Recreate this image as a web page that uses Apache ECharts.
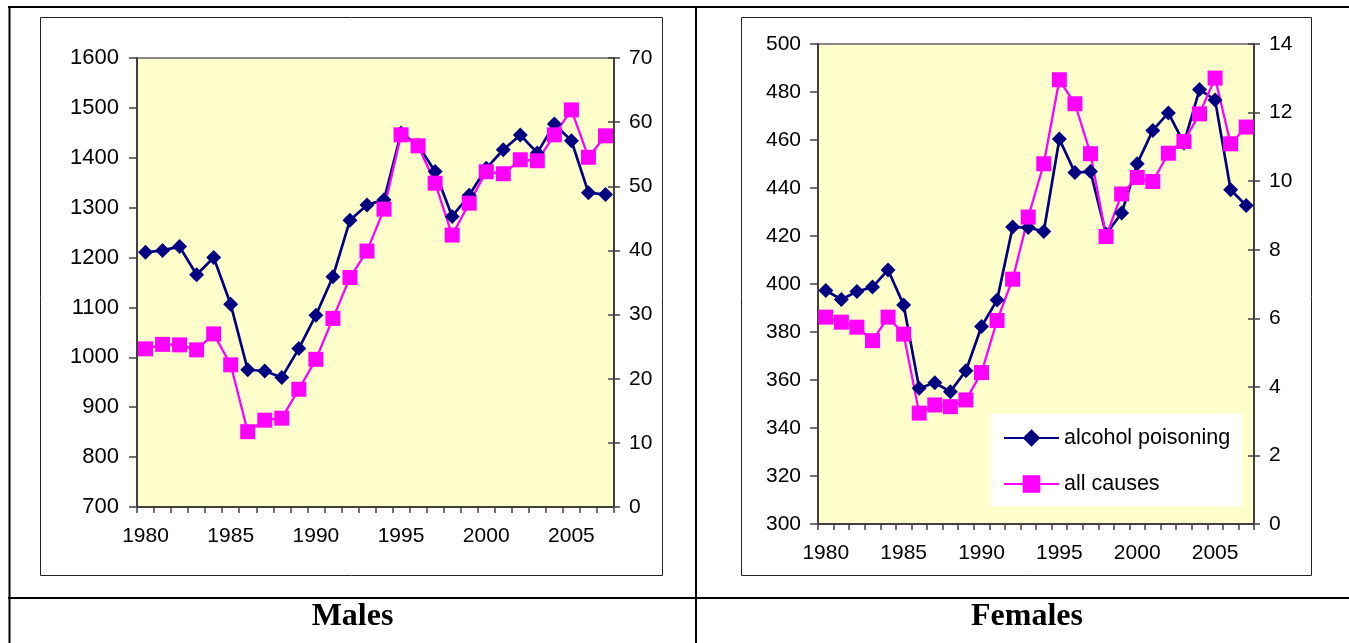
<!DOCTYPE html>
<html>
<head>
<meta charset="utf-8">
<script src="https://cdn.jsdelivr.net/npm/echarts@6/dist/echarts.min.js"></script>
<style>
html,body{margin:0;padding:0;background:#fff;}
#c{width:1349px;height:643px;}
</style>
</head>
<body>
<div id="c"></div>
<script>
// ---- data ----
var years = ['1980','1981','1982','1983','1984','1985','1986','1987','1988','1989',
             '1990','1991','1992','1993','1994','1995','1996','1997','1998','1999',
             '2000','2001','2002','2003','2004','2005','2006','2007'];
var seriesNames = ['alcohol poisoning', 'all causes'];
var panelTitles = ['Males', 'Females'];

// Males
var maleAlcohol = [39.7,40.0,40.6,36.2,38.9,31.6,21.4,21.2,20.2,24.7,
                   29.9,35.9,44.7,47.1,47.9,58.3,56.4,52.3,45.3,48.6,
                   52.8,55.7,58.0,55.2,59.7,57.1,49.0,48.7];
var maleAll = [1017,1026,1025,1015,1047,985,851,874,878,936,
               996,1078,1160,1213,1297,1446,1424,1349,1245,1309,
               1372,1368,1396,1394,1446,1496,1401,1444];
// Females
var femaleAlcohol = [6.81,6.55,6.78,6.91,7.41,6.39,3.96,4.12,3.86,4.47,
                     5.76,6.53,8.66,8.65,8.53,11.23,10.25,10.28,8.45,9.07,
                     10.51,11.48,11.99,11.11,12.67,12.37,9.75,9.29];
var femaleAll = [386.2,384.1,382.0,376.4,386.2,379.1,346.2,349.6,348.9,351.7,
                 363.1,384.8,402.0,427.9,450.1,485.1,475.1,454.3,419.8,437.5,
                 444.4,442.7,454.5,459.4,470.9,485.8,458.4,465.4];

// axis ranges
var maleLeft = {min:700, max:1600, interval:100};
var maleRight = {min:0, max:70, interval:10};
var femaleLeft = {min:300, max:500, interval:20};
var femaleRight = {min:0, max:14, interval:2};

// ---- chart ----
var FONT = '"Liberation Sans", Arial, sans-serif';
var AX = '#404040';
var chart = echarts.init(document.getElementById('c'), null, {renderer:'canvas'});

function xAx(g){
  return {
    type:'category', gridIndex:g, data:years, boundaryGap:true,
    axisLine:{show:true, lineStyle:{color:AX, width:2}},
    axisTick:{show:true, interval:0, length:6, lineStyle:{color:AX, width:1.5}},
    axisLabel:{interval:4, fontSize:21, color:'#000', fontFamily:FONT, margin:19},
    splitLine:{show:false}
  };
}
function yAx(g, pos, r, opts){
  return {
    type:'value', gridIndex:g, position:pos, min:r.min, max:r.max, interval:r.interval,
    axisLine:{show:true, onZero:false, lineStyle:{color:AX, width:2}},
    axisTick:{show:true, inside:!!opts.inside, length:opts.tick, lineStyle:{color:AX, width:1.5}},
    axisLabel:{show:opts.label!==false, fontSize:opts.fs||21, color:'#000', fontFamily:FONT,
               margin:opts.margin||16, formatter:function(v){return String(v);}},
    splitLine:{show:false}
  };
}
function lineS(name, xi, yi, data, color, sym, size, width){
  return {
    name:name, type:'line', xAxisIndex:xi, yAxisIndex:yi, data:data,
    symbol:sym, symbolSize:size, showSymbol:true, showAllSymbol:true,
    lineStyle:{color:color, width:width},
    itemStyle:{color:color},
    emphasis:{disabled:true}, animation:false
  };
}

var option = {
  animation:false,
  backgroundColor:'#fff',
  grid:[
    {left:137, top:58, width:477, height:449, show:true, backgroundColor:'#FFFFCC', borderColor:'#888', borderWidth:2},
    {left:818, top:44, width:436, height:480, show:true, backgroundColor:'#FFFFCC', borderColor:'#888', borderWidth:2}
  ],
  xAxis:[xAx(0), xAx(1)],
  yAxis:[
    yAx(0,'left',maleLeft,{tick:8, margin:18, fs:22}),
    yAx(0,'right',maleRight,{tick:6, margin:15}),
    yAx(0,'right',maleRight,{tick:6, inside:true, label:false}),
    yAx(1,'left',femaleLeft,{tick:8, margin:17}),
    yAx(1,'right',femaleRight,{tick:6, margin:15}),
    yAx(1,'right',femaleRight,{tick:6, inside:true, label:false})
  ],
  legend:{
    data:seriesNames, orient:'vertical', left:991, top:414,
    backgroundColor:'#fff', padding:[13,12,11,12],
    itemWidth:55, itemHeight:22, itemGap:24,
    textStyle:{fontSize:21.5, color:'#000', fontFamily:FONT},
    selectedMode:false
  },
  series:[
    lineS(seriesNames[0],0,1,maleAlcohol,'#000080','diamond',15,2.7),
    lineS(seriesNames[1],0,0,maleAll,'#FF00FF','rect',15,2.3),
    lineS(seriesNames[0],1,4,femaleAlcohol,'#000080','diamond',15,2.7),
    lineS(seriesNames[1],1,3,femaleAll,'#FF00FF','rect',15,2.3)
  ],
  graphic:[
    // table frame
    {type:'line', shape:{x1:8, y1:7, x2:1349, y2:7}, style:{stroke:'#000', lineWidth:2}, silent:true},
    {type:'line', shape:{x1:9.5, y1:6, x2:9.5, y2:643}, style:{stroke:'#000', lineWidth:2}, silent:true},
    {type:'line', shape:{x1:696, y1:6, x2:696, y2:643}, style:{stroke:'#000', lineWidth:2}, silent:true},
    {type:'line', shape:{x1:8, y1:598, x2:1349, y2:598}, style:{stroke:'#000', lineWidth:2}, silent:true},
    // chart boxes
    {type:'rect', shape:{x:40.5, y:17.5, width:622, height:558}, style:{fill:null, stroke:'#222', lineWidth:1}, silent:true, z:-1},
    {type:'rect', shape:{x:741.5, y:17.5, width:570, height:558}, style:{fill:null, stroke:'#222', lineWidth:1}, silent:true, z:-1},
    // captions
    {type:'text', x:352.5, y:617, style:{text:panelTitles[0], font:'bold 32px "Liberation Serif", "Times New Roman", serif', fill:'#000', textAlign:'center', textVerticalAlign:'middle'}, silent:true},
    {type:'text', x:1027, y:617, style:{text:panelTitles[1], font:'bold 32px "Liberation Serif", "Times New Roman", serif', fill:'#000', textAlign:'center', textVerticalAlign:'middle'}, silent:true}
  ]
};
chart.setOption(option);
</script>
</body>
</html>
